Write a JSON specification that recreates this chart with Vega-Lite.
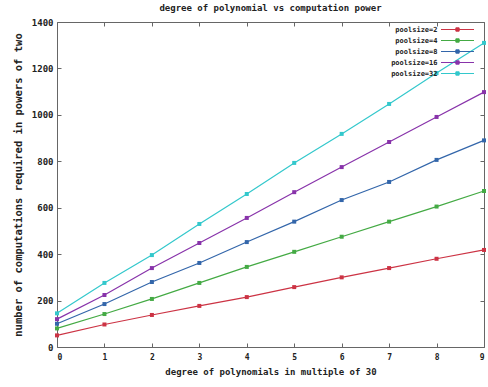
{
  "$schema": "https://vega.github.io/schema/vega-lite/v6.json",
  "width": 427,
  "height": 325,
  "autosize": {"type": "none"},
  "padding": {"left": 57, "top": 22, "right": 4, "bottom": 40},
  "background": "white",
  "title": {"text": "degree of polynomial vs computation power", "font": "DejaVu Sans Mono", "fontWeight": "bold", "fontSize": 9, "offset": 5, "color": "#222"},
  "config": {
    "view": {"stroke": "#666", "strokeWidth": 1},
    "axis": {"grid": false, "domain": false, "labelFont": "DejaVu Sans Mono", "labelFontWeight": "bold", "labelFontSize": 8, "labelColor": "#222", "titleFont": "DejaVu Sans Mono", "titleFontWeight": "bold", "titleColor": "#222", "tickColor": "#666", "tickSize": -4}
  },
  "data": {"values": [
    {"x": 0, "pool": "poolsize=2", "v": 50}, {"x": 1, "pool": "poolsize=2", "v": 97}, {"x": 2, "pool": "poolsize=2", "v": 138}, {"x": 3, "pool": "poolsize=2", "v": 177}, {"x": 4, "pool": "poolsize=2", "v": 215}, {"x": 5, "pool": "poolsize=2", "v": 258}, {"x": 6, "pool": "poolsize=2", "v": 300}, {"x": 7, "pool": "poolsize=2", "v": 340}, {"x": 8, "pool": "poolsize=2", "v": 380}, {"x": 9, "pool": "poolsize=2", "v": 418},
    {"x": 0, "pool": "poolsize=4", "v": 80}, {"x": 1, "pool": "poolsize=4", "v": 142}, {"x": 2, "pool": "poolsize=4", "v": 207}, {"x": 3, "pool": "poolsize=4", "v": 276}, {"x": 4, "pool": "poolsize=4", "v": 345}, {"x": 5, "pool": "poolsize=4", "v": 410}, {"x": 6, "pool": "poolsize=4", "v": 475}, {"x": 7, "pool": "poolsize=4", "v": 540}, {"x": 8, "pool": "poolsize=4", "v": 605}, {"x": 9, "pool": "poolsize=4", "v": 672},
    {"x": 0, "pool": "poolsize=8", "v": 100}, {"x": 1, "pool": "poolsize=8", "v": 185}, {"x": 2, "pool": "poolsize=8", "v": 280}, {"x": 3, "pool": "poolsize=8", "v": 362}, {"x": 4, "pool": "poolsize=8", "v": 452}, {"x": 5, "pool": "poolsize=8", "v": 540}, {"x": 6, "pool": "poolsize=8", "v": 633}, {"x": 7, "pool": "poolsize=8", "v": 711}, {"x": 8, "pool": "poolsize=8", "v": 806}, {"x": 9, "pool": "poolsize=8", "v": 890},
    {"x": 0, "pool": "poolsize=16", "v": 120}, {"x": 1, "pool": "poolsize=16", "v": 224}, {"x": 2, "pool": "poolsize=16", "v": 340}, {"x": 3, "pool": "poolsize=16", "v": 448}, {"x": 4, "pool": "poolsize=16", "v": 556}, {"x": 5, "pool": "poolsize=16", "v": 667}, {"x": 6, "pool": "poolsize=16", "v": 775}, {"x": 7, "pool": "poolsize=16", "v": 883}, {"x": 8, "pool": "poolsize=16", "v": 991}, {"x": 9, "pool": "poolsize=16", "v": 1098},
    {"x": 0, "pool": "poolsize=32", "v": 145}, {"x": 1, "pool": "poolsize=32", "v": 276}, {"x": 2, "pool": "poolsize=32", "v": 396}, {"x": 3, "pool": "poolsize=32", "v": 530}, {"x": 4, "pool": "poolsize=32", "v": 659}, {"x": 5, "pool": "poolsize=32", "v": 793}, {"x": 6, "pool": "poolsize=32", "v": 918}, {"x": 7, "pool": "poolsize=32", "v": 1047}, {"x": 8, "pool": "poolsize=32", "v": 1180}, {"x": 9, "pool": "poolsize=32", "v": 1310}
  ]},
  "layer": [
    {
      "mark": {"type": "line", "strokeWidth": 1.2},
      "encoding": {
        "x": {"field": "x", "type": "quantitative", "scale": {"domain": [0, 9], "nice": false, "zero": false}, "axis": {"orient": "bottom", "values": [0,1,2,3,4,5,6,7,8,9], "format": "d", "title": "degree of polynomials in multiple of 30", "titleFontSize": 9, "titlePadding": 6, "labelPadding": 10}},
        "y": {"field": "v", "type": "quantitative", "scale": {"domain": [0, 1400], "nice": false}, "axis": {"orient": "left", "values": [0,200,400,600,800,1000,1200,1400], "format": "d", "labelFontSize": 9, "title": "number of computations required in powers of two", "titleFontSize": 10.5, "titlePadding": 8, "labelPadding": 8}},
        "color": {"field": "pool", "type": "nominal", "scale": {"domain": ["poolsize=2", "poolsize=4", "poolsize=8", "poolsize=16", "poolsize=32"], "range": ["#cc3344", "#44aa44", "#3366aa", "#8833aa", "#33c8cc"]},
          "legend": {"title": null, "orient": "none", "legendX": 394.5, "legendY": 1.5, "padding": 0, "labelFont": "DejaVu Sans Mono", "labelFontWeight": "bold", "labelFontSize": 7, "labelColor": "#222", "labelAlign": "right", "labelOffset": -26, "symbolType": "M-3,0H3M-0.3,-0.3H0.3V0.3H-0.3Z", "symbolSize": 121, "symbolStrokeWidth": 1, "rowPadding": 1}}
      }
    },
    {
      "mark": {"type": "point", "shape": "square", "filled": true, "size": 16, "opacity": 1},
      "encoding": {
        "x": {"field": "x", "type": "quantitative", "axis": {"orient": "top", "values": [0,1,2,3,4,5,6,7,8,9], "labels": false, "title": null}},
        "y": {"field": "v", "type": "quantitative", "axis": {"orient": "right", "values": [0,200,400,600,800,1000,1200,1400], "labels": false, "title": null}},
        "color": {"field": "pool", "type": "nominal", "legend": null}
      }
    }
  ],
  "resolve": {"axis": {"x": "independent", "y": "independent"}}
}
